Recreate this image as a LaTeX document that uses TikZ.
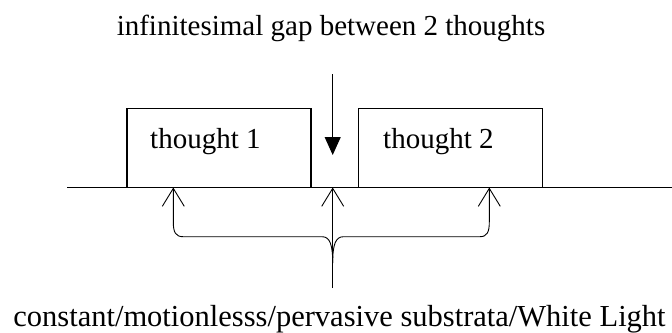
\documentclass[tikz,border=0pt]{standalone}
\usepackage{fontspec}
\setmainfont{Liberation Serif}
\usetikzlibrary{arrows.meta}
\tikzset{
  lbl/.style={inner sep=0pt, font=\fontsize{29}{34}\selectfont},
  biglbl/.style={inner sep=0pt, font=\fontsize{30.5}{36}\selectfont},
  thoughtbox/.style={draw, line width=1.3pt, minimum width=184pt, minimum height=79pt, inner sep=0pt},
  downarrow/.style={line width=1pt, -{Triangle[width=16pt,length=18pt]}},
  uparrow/.style={line width=0.9pt, -{Straight Barb[length=18pt,width=22pt]}},
  upstart/.style={line width=0.9pt, {Straight Barb[length=18pt,width=22pt]}-},
}
\begin{document}
\begin{tikzpicture}[x=1pt,y=-1pt]
\useasboundingbox (0,0) rectangle (672,332);
% title
\node[lbl, anchor=base] (title) at (331,35) {infinitesimal gap between 2 thoughts};
% baseline
\coordinate (bl) at (67.3,187.5);
\coordinate (br) at (672,187.5);
\draw[line width=1.5pt] (bl) -- (br);
% boxes
\node[thoughtbox] (box1) at (219,148) {};
\node[thoughtbox] (box2) at (450.3,148) {};
\node[lbl, anchor=base west] (t1) at (150,148) {thought 1};
\node[lbl, anchor=base west] (t2) at (383,148) {thought 2};
% gap arrow
\coordinate (gtop) at (332.7,74);
\coordinate (gtip) at (332.7,155);
\draw[downarrow] (gtop) -- (gtip);
% brace
\coordinate (a1) at (173.3,187.5);
\coordinate (a2) at (332.7,187.5);
\coordinate (a3) at (489.3,187.5);
\coordinate (cusp) at (332.7,263);
\coordinate (bbot) at (332.7,288);
\draw[upstart] (a1) -- (173.3,222) .. controls (173.3,232) and (175.5,236.7) .. (183,236.7)
  -- (322,236.7) .. controls (330,236.7) and (332.7,245) .. (cusp);
\draw[upstart] (a3) -- (489.3,222) .. controls (489.3,232) and (487.1,236.7) .. (480,236.7)
  -- (343.4,236.7) .. controls (335.4,236.7) and (332.7,245) .. (cusp);
\draw[uparrow] (bbot) -- (a2);
% bottom label
\node[biglbl, anchor=base] (sub) at (339.5,326) {constant/motionlesss/pervasive substrata/White Light};
\end{tikzpicture}
\end{document}
